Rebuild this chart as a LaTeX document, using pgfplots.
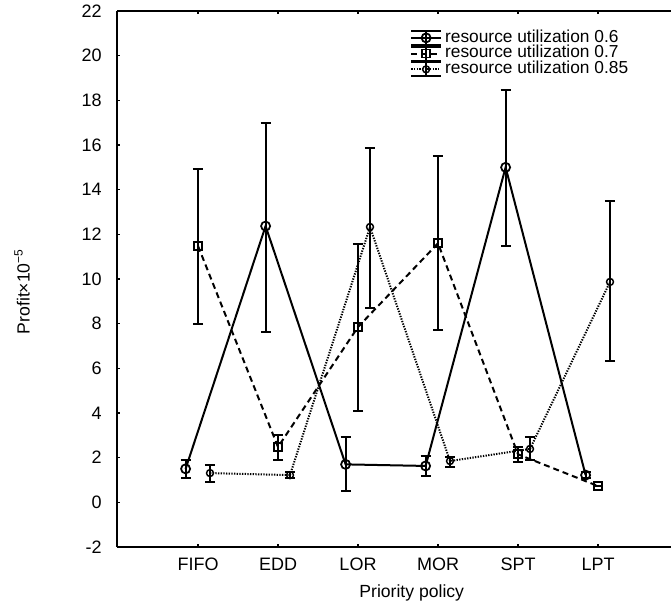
\documentclass[border=0pt]{standalone}
\usepackage{fontspec}
\setmainfont{Liberation Sans}
\usepackage{pgfplots}
\usepackage{pgfplotstable}
\pgfplotsset{compat=1.18}

% x  y  ep  em
\pgfplotstableread{
x y ep em
0.845 1.50 0.40 0.40
1.845 12.37 4.63 4.74
2.845 1.70 1.22 1.17
3.845 1.63 0.44 0.45
4.845 15.00 3.47 3.52
5.845 1.22 0.14 0.12
}\ua
\pgfplotstableread{
x y ep em
1 11.48 3.45 3.48
2 2.48 0.55 0.60
3 7.85 3.72 3.75
4 11.60 3.90 3.90
5 2.15 0.33 0.33
6 0.73 0.00 0.00
}\ub
\pgfplotstableread{
x y ep em
1.15 1.31 0.34 0.40
2.15 1.22 0.15 0.15
3.15 12.33 3.54 3.63
4.15 1.85 0.20 0.27
5.15 2.39 0.53 0.50
6.15 9.87 3.63 3.54
}\uc

\begin{document}
\begin{tikzpicture}
\begin{axis}[
  scale only axis,
  width=415.5pt, height=402pt,
  xmin=-0.0125, xmax=6.9125,
  ymin=-2, ymax=22,
  ytick={-2,0,...,22},
  xtick={1,2,3,4,5,6},
  xticklabels={FIFO,EDD,LOR,MOR,SPT,LPT},
  axis x line*=box, axis y line*=left,
  x axis line style={-}, y axis line style={-},
  tick align=inside,
  xtick pos=both, ytick pos=left,
  major tick length=2.5pt,
  tick style={line width=1pt, black},
  axis line style={line width=1.2pt},
  /pgf/number format/assume math mode=true,
  ticklabel style={font=\fontsize{13.5}{15}\selectfont},
  yticklabel style={xshift=-8pt},
  xticklabel style={yshift=-5pt},
  xlabel={Priority policy},
  ylabel={Profit×10\raisebox{0.75ex}{\fontsize{9}{9}\selectfont −5}},
  label style={font=\fontsize{13.2}{15}\selectfont},
  x label style={at={(xticklabel cs:0.532)}, anchor=north, yshift=-3pt},
  y label style={at={(axis description cs:-0.1715,0.476)}, anchor=center, rotate=0},
  legend style={draw=none, fill=none, at={(0.522,0.970)}, anchor=north west,
    font=\fontsize{13}{13}\selectfont,
    nodes={inner sep=0.5pt, text height=7.8pt, text depth=1.6pt, anchor=west},
    column sep=2pt},
  legend cell align=left,
  legend image code/.code={
    \draw[#1, mark=none] (0pt,0pt) -- (22pt,0pt);
    \draw[solid, line width=1.4pt, mark=none] (11pt,-5.2pt) -- (11pt,5.2pt);
    \draw[solid, line width=1.4pt, mark=none] (0pt,-5.2pt) -- (22pt,-5.2pt) (0pt,5.2pt) -- (22pt,5.2pt);
    \draw[#1, only marks] plot coordinates {(11pt,0pt)};
  },
  error bars/y dir=both,
  error bars/y explicit,
  error bars/error bar style={line width=1.5pt, solid, black},
  error bars/error mark options={line width=1.5pt, solid, black, mark size=3.8pt, rotate=90},
]
\addplot[black, solid, line width=1.5pt, mark=o, mark size=3.4pt,
  mark options={solid, fill=white, line width=1.3pt}]
  table[x=x, y=y, y error plus=ep, y error minus=em] {\ua};
\addlegendentry{resource utilization 0.6}
\addplot[black, line width=1.5pt, dash pattern=on 4.5pt off 3pt, mark=square, mark size=3pt,
  mark options={solid, fill=white, line width=1.3pt}]
  table[x=x, y=y, y error plus=ep, y error minus=em] {\ub};
\addlegendentry{resource utilization 0.7}
\addplot[black, line width=1.5pt, dash pattern=on 1pt off 1pt, mark=o, mark size=2.6pt,
  mark options={solid, fill=white, line width=1.1pt}]
  table[x=x, y=y, y error plus=ep, y error minus=em] {\uc};
\addlegendentry{resource utilization 0.85}
\end{axis}
\pgfresetboundingbox
\path ([shift={(-87.75pt,-48pt)}]current axis.south west) rectangle ([shift={(0pt,8.25pt)}]current axis.north east);
\end{tikzpicture}
\end{document}
